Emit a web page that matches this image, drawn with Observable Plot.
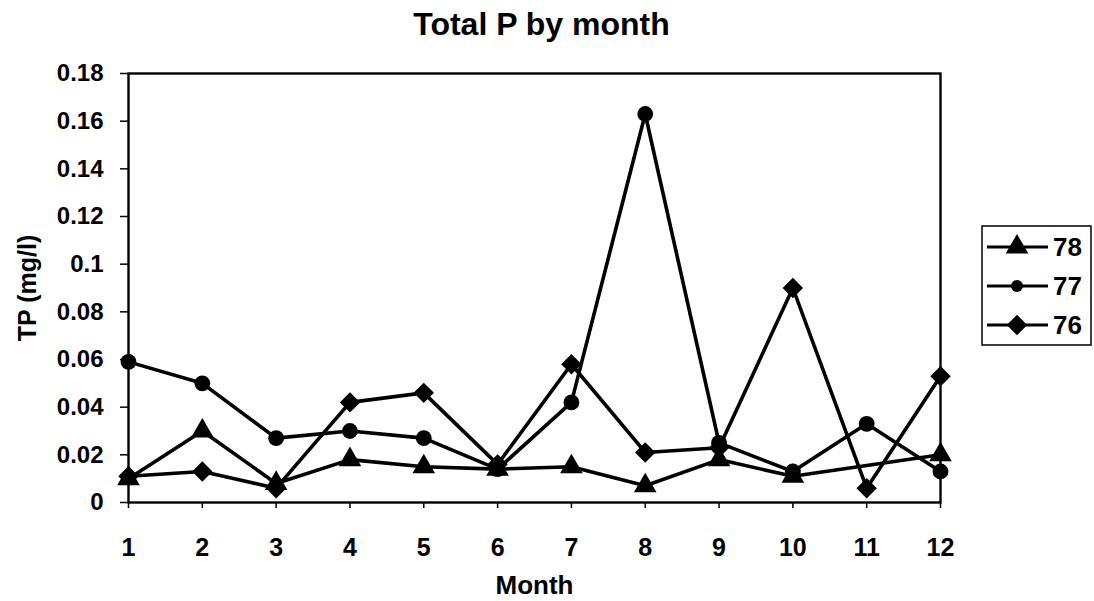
<!DOCTYPE html>
<html>
<head>
<meta charset="utf-8">
<script src="https://cdn.jsdelivr.net/npm/d3@7"></script>
<script src="https://cdn.jsdelivr.net/npm/@observablehq/plot@0.6"></script>
<style>
  html, body { margin: 0; padding: 0; background: #fff; overflow: hidden; }
  #wrap { position: relative; width: 1094px; height: 601px; }
  #legend { position: absolute; left: 981px; top: 225px; }
</style>
</head>
<body>
<div id="wrap"><div id="chart"></div><div id="legend"></div></div>
<script>
const months = [1, 2, 3, 4, 5, 6, 7, 8, 9, 10, 11, 12];
const tp78 = [0.010, 0.030, 0.008, 0.018, 0.015, 0.014, 0.015, 0.007, 0.018, 0.011, null, 0.020];
const tp77 = [0.059, 0.050, 0.027, 0.030, 0.027, 0.014, 0.042, 0.163, 0.025, 0.013, 0.033, 0.013];
const tp76 = [0.011, 0.013, 0.006, 0.042, 0.046, 0.016, 0.058, 0.021, 0.023, 0.090, 0.006, 0.053];
const seriesNames = ["78", "77", "76"];
const seriesSymbols = ["triangle", "circle", "diamond2"];
const yTicks = [0, 0.02, 0.04, 0.06, 0.08, 0.1, 0.12, 0.14, 0.16, 0.18];
const titleText = "Total P by month";
const xLabel = "Month";
const yLabel = "TP (mg/l)";

const FONT = "'Liberation Sans', Arial, sans-serif";
const symbolR = {triangle: 8.4, circle: 7.9, diamond2: 9.2};
const seriesValues = [tp78, tp77, tp76];
const rows = [];
seriesNames.forEach((name, i) => {
  months.forEach((m, j) => {
    if (seriesValues[i][j] != null) rows.push({series: name, month: m, tp: seriesValues[i][j], sym: seriesSymbols[i]});
  });
});

const marks = [];
seriesNames.forEach((name, i) => {
  const d = rows.filter(r => r.series === name);
  marks.push(Plot.line(d, {x: "month", y: "tp", stroke: "black", strokeWidth: 3.6}));
  marks.push(Plot.dot(d, {x: "month", y: "tp", symbol: "sym", fill: "black", stroke: "none",
    r: symbolR[seriesSymbols[i]]}));
});

const chart = Plot.plot({
  width: 1094,
  height: 601,
  marginLeft: 128,
  marginRight: 154,
  marginTop: 73,
  marginBottom: 99,
  style: {fontFamily: FONT, fontWeight: "bold", background: "white", color: "black"},
  x: {domain: [1, 12], ticks: months},
  y: {domain: [0, 0.18], ticks: yTicks},
  symbol: {type: "identity"},
  marks: [
    Plot.frame({stroke: "black", strokeWidth: 2.4}),
    Plot.axisY({ticks: yTicks, tickSize: 8, tickPadding: 17, fontSize: 24, fontWeight: "bold", label: null,
      tickFormat: d => String(+d.toFixed(2)), strokeWidth: 1.5}),
    Plot.axisX({ticks: months, tickSize: 6, tickPadding: 30, fontSize: 25, fontWeight: "bold", label: null,
      tickFormat: d => String(d), strokeWidth: 1.5}),
    ...marks,
    Plot.text([titleText], {frameAnchor: "top", dx: 7, dy: -61, fontSize: 32, fontWeight: "bold", text: d => d}),
    Plot.text([xLabel], {frameAnchor: "bottom", dy: 91, fontSize: 26, fontWeight: "bold", text: d => d}),
    Plot.text([yLabel], {frameAnchor: "left", textAnchor: "middle", dx: -101, dy: 0, rotate: -90, fontSize: 25, fontWeight: "bold", text: d => d})
  ]
});
document.getElementById("chart").append(chart);

// Legend
const lw = 111, lh = 121;
const lsvg = d3.select("#legend").append("svg").attr("width", lw).attr("height", lh)
  .style("font-family", FONT).style("font-weight", "bold");
lsvg.append("rect").attr("x", 1).attr("y", 1).attr("width", lw - 2).attr("height", lh - 2)
  .attr("fill", "white").attr("stroke", "black").attr("stroke-width", 1.5);
const symMap = {triangle: d3.symbolTriangle, circle: d3.symbolCircle, diamond2: d3.symbolDiamond2};
seriesNames.forEach((name, i) => {
  const cy = 22 + i * 39;
  const g = lsvg.append("g").attr("transform", `translate(0,${cy})`);
  g.append("line").attr("x1", 6).attr("x2", 67).attr("y1", 0).attr("y2", 0)
    .attr("stroke", "black").attr("stroke-width", 3);
  const r = seriesSymbols[i] === "circle" ? 6 : symbolR[seriesSymbols[i]];
  g.append("path").attr("transform", "translate(36,0)")
    .attr("d", d3.symbol(symMap[seriesSymbols[i]], Math.PI * r * r)()).attr("fill", "black");
  g.append("text").attr("x", 72).attr("y", 0).attr("dy", "0.36em").attr("font-size", 26).text(name);
});
</script>
</body>
</html>
